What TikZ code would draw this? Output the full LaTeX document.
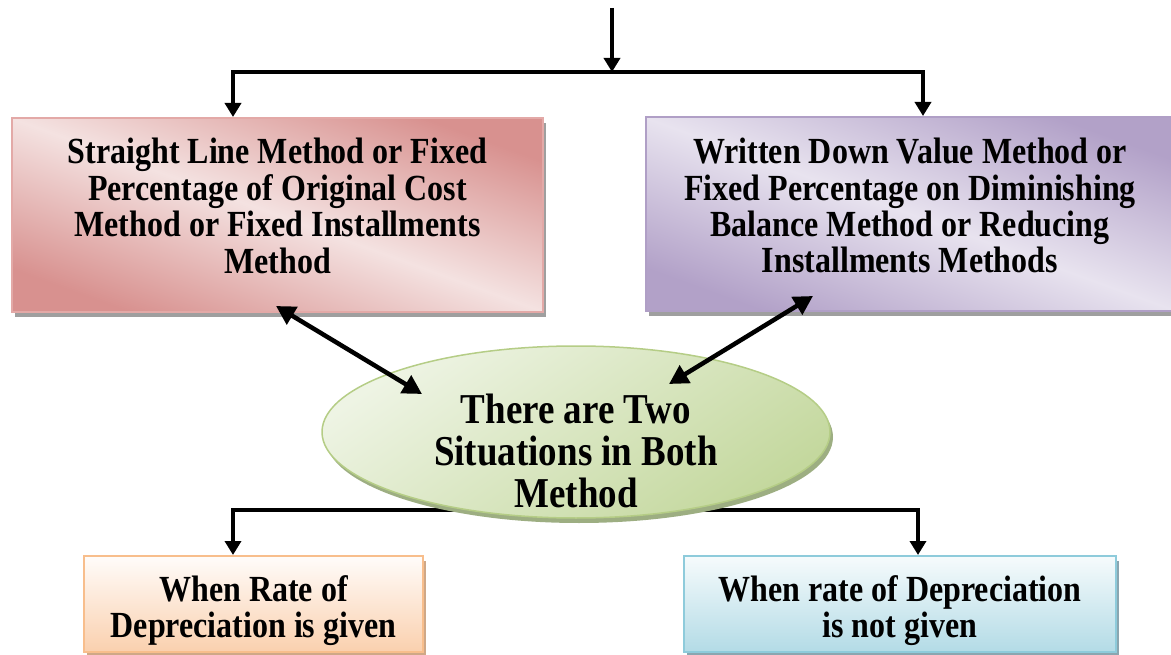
\documentclass[tikz,border=0pt]{standalone}
\usepackage{fontspec}
\usepackage{graphicx}
\setmainfont{Liberation Serif}
\usetikzlibrary{arrows.meta,shapes.geometric,shadows,backgrounds,calc}
\definecolor{pinkL}{HTML}{F4E2E1}
\definecolor{pinkD}{HTML}{D8918F}
\definecolor{pinkB}{HTML}{E3A9A7}
\definecolor{purL}{HTML}{E8E3EF}
\definecolor{purD}{HTML}{B2A1C8}
\definecolor{purB}{HTML}{B09FC6}
\definecolor{grnL}{HTML}{EEF4E4}
\definecolor{grnD}{HTML}{C4D89E}
\definecolor{grnB}{HTML}{B5CD86}
\definecolor{grnS}{HTML}{9DAE82}
\definecolor{orL}{HTML}{FFFCFA}
\definecolor{orD}{HTML}{FAD0AE}
\definecolor{orB}{HTML}{F8BE8C}
\definecolor{orS}{HTML}{CFA887}
\definecolor{blL}{HTML}{F6FBFC}
\definecolor{blD}{HTML}{B3DBE6}
\definecolor{blB}{HTML}{8ECBDB}
\definecolor{blS}{HTML}{8AA6B0}
\newcommand{\talltext}[1]{\scalebox{1}[1.15]{\begin{tabular}{@{}c@{}}#1\end{tabular}}}
\begin{document}
\begin{tikzpicture}[x=1pt,y=-1pt,
  bigbox/.style={rectangle, inner sep=0pt, line width=2pt, minimum height=194pt},
  smallbox/.style={rectangle, inner sep=0pt, line width=2pt, minimum height=96pt},
  boxshadow/.style={drop shadow={shadow xshift=3pt, shadow yshift=-5pt, fill=#1, opacity=1}},
  txt/.style={align=center, inner sep=0pt, font=\fontsize{32}{31.3}\selectfont\bfseries},
  txtbig/.style={align=center, inner sep=0pt, font=\fontsize{37}{36.5}\selectfont\bfseries},
  arr/.style={line width=3.5pt, -{Triangle[length=14pt,width=16pt]}},
  plain/.style={line width=3.5pt},
  darr/.style={line width=4.5pt, {Triangle[length=19pt,width=20pt]}-{Triangle[length=19pt,width=20pt]}}
]
\useasboundingbox (0,0) rectangle (1171,655);

% boxes
\node[bigbox, minimum width=531pt, draw=pinkB, boxshadow=gray!75,
      top color=pinkD, bottom color=pinkD, middle color=pinkL, shading angle=-20]
      (L) at (277.5,215) {};
\node[txt] (Lt) at (277.5,211) {\talltext{Straight Line Method or Fixed\\Percentage of Original Cost\\Method or Fixed Installments\\Method}};

\node[bigbox, minimum width=528pt, draw=purB, boxshadow=gray!75,
      top color=purD, bottom color=purD, middle color=purL, shading angle=-20]
      (R) at (910,214) {};
\node[txt] (Rt) at (910,211) {\talltext{Written Down Value Method or\\Fixed Percentage on Diminishing\\Balance Method or Reducing\\Installments Methods}};

\node[smallbox, minimum width=339pt, draw=orB, boxshadow=orS,
      top color=orL, bottom color=orD]
      (BL) at (253.5,604) {};
\node[txt] (BLt) at (253.5,612) {\talltext{When Rate of\\Depreciation is given}};

\node[smallbox, minimum width=432pt, draw=blB, boxshadow=blS,
      top color=blL, bottom color=blD]
      (BR) at (900,604) {};
\node[txt] (BRt) at (900,612) {\talltext{When rate of Depreciation\\is not given}};

% top connectors
\coordinate (top) at (612,8);
\coordinate (split) at (612,72);
\coordinate (hl) at (233,72);
\coordinate (hr) at (923,72);
\draw[arr] (top) -- (split);
\draw[plain] ([xshift=-1.75pt]hl) -- ([xshift=1.75pt]hr);
\draw[arr] (hl) -- (hl |- L.north);
\draw[arr] (hr) -- (hr |- R.north);

% ellipse
\coordinate (sb) at (576,510);
\coordinate (bl) at (233,510);
\coordinate (br) at (918,510);
\draw[plain] (sb) -- ([xshift=-1.75pt]bl);
\draw[plain] (sb) -- ([xshift=1.75pt]br);
\draw[arr] (bl) -- (bl |- BL.north);
\draw[arr] (br) -- (br |- BR.north);

\node[ellipse, inner sep=0pt, minimum width=508pt, minimum height=172pt,
      draw=grnB, line width=1.5pt, boxshadow=grnS,
      top color=grnL, bottom color=grnD, shading angle=35]
      (sit) at (576,432) {};
\node[txtbig] (sitt) at (576,457) {\talltext{There are Two\\Situations in Both\\Method}};

% double arrows
\coordinate (la) at (276,306);
\coordinate (lb) at (422,394);
\coordinate (ra) at (813,296);
\coordinate (rb) at (669,384);
\draw[darr] (la) -- (lb);
\draw[darr] (ra) -- (rb);
\end{tikzpicture}
\end{document}
